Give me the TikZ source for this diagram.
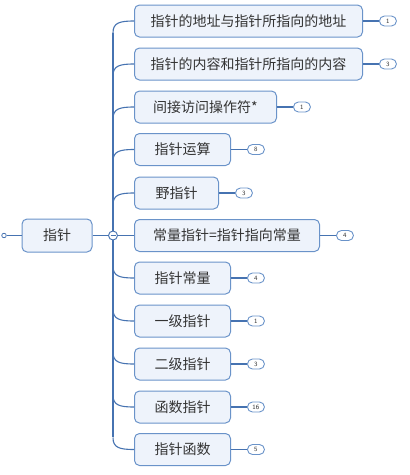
\documentclass[tikz,border=0pt]{standalone}
\usepackage{fontspec}
\newfontfamily\cjk{Noto Sans CJK SC}
\definecolor{boxfill}{HTML}{EEF3FB}
\definecolor{boxline}{HTML}{6A93C9}
\definecolor{connline}{HTML}{4673B1}
\definecolor{txtcol}{HTML}{333333}
\begin{document}
\begin{tikzpicture}[x=1pt,y=-1pt,
  topic/.style={draw=boxline, fill=boxfill, rounded corners=5pt, line width=1pt,
    minimum height=32pt, inner sep=0pt, text=txtcol,
    font=\cjk\fontsize{14}{16}\selectfont},
  badge/.style={draw=boxline, fill=white, rounded corners=5pt, line width=0.9pt,
    minimum width=17pt, minimum height=10pt, inner sep=0pt, text=txtcol,
    font=\sffamily\fontsize{6.5}{6.5}\selectfont, anchor=west},
  conn/.style={draw=connline, line width=1.1pt}]
\useasboundingbox (0,0) rectangle (410,475);
\node[topic, minimum width=70pt, minimum height=33pt] (root) at (57,235.5) {指针};
\node[circle, draw=connline, fill=white, line width=0.8pt, minimum size=4.5pt, inner sep=0pt] (o) at (4,235.5) {};
\draw[conn] (o) -- (root);
\draw[conn] (113,33) -- (113,437);
\foreach \i/\yc/\w/\txt/\n in {
  1/21/228/指针的地址与指针所指向的地址/1,
  2/64/228/指针的内容和指针所指向的内容/3,
  3/107/142/间接访问操作符*/1,
  4/149.5/96/指针运算/8,
  5/193/84/野指针/3,
  6/235.5/185/常量指针=指针指向常量/4,
  7/278/96/指针常量/4,
  8/321/96/一级指针/1,
  9/364/96/二级指针/3,
  10/407/96/函数指针/16,
  11/449.5/96/指针函数/5} {
  \node[topic, minimum width=\w pt, anchor=west] (t\i) at (134,\yc) {\txt};
  \node[badge] (b\i) at ([xshift=16pt]t\i.east) {\n};
  \draw[conn] (t\i) -- (b\i);
}
\foreach \i/\yc in {1/21,2/64,3/107,4/149.5,5/193}
  \draw[conn] (113,\yc+12) .. controls (113,\yc+2) and (119,\yc) .. (t\i.west);
\foreach \i/\yc in {7/278,8/321,9/364,10/407,11/449.5}
  \draw[conn] (113,\yc-12) .. controls (113,\yc-2) and (119,\yc) .. (t\i.west);
\node[circle, draw=connline, fill=white, line width=0.9pt, minimum size=9pt, inner sep=0pt] (m) at (113,235.5) {};
\draw[conn] (root) -- (m);
\draw[conn] (m) -- (t6);
\draw[connline, line width=0.9pt] ([xshift=-2.5pt]m.center) -- ([xshift=2.5pt]m.center);
\end{tikzpicture}
\end{document}
